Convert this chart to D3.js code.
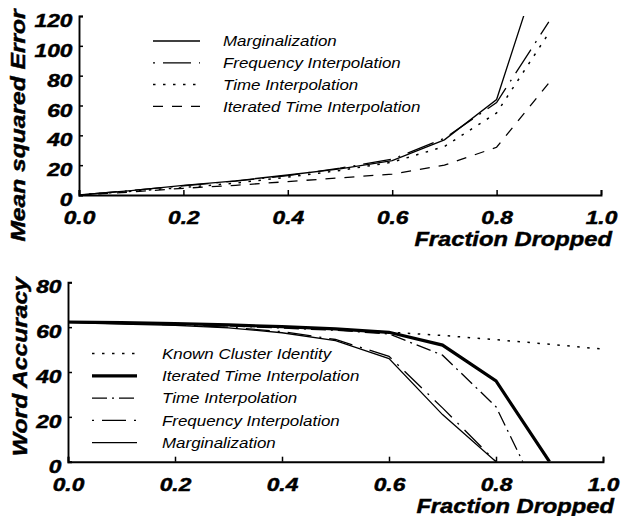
<!DOCTYPE html>
<html><head><meta charset="utf-8">
<script src="https://cdn.jsdelivr.net/npm/d3@7"></script>
<style>
body{margin:0;background:#fff}
svg text{font-family:"Liberation Sans",Arial,Helvetica,sans-serif;fill:#000}
</style></head><body>
<svg id="c" width="622" height="516"></svg>
<script>
// ---------- DATA ----------
const xTicks = [0, 0.2, 0.4, 0.6, 0.8, 1.0];
const xTickLabels = ["0.0", "0.2", "0.4", "0.6", "0.8", "1.0"];

// Top panel: Mean squared Error vs fraction dropped
const mseYTicks = [0, 20, 40, 60, 80, 100, 120];
const mseFractions = [0, 0.1, 0.2, 0.3, 0.4, 0.5, 0.6, 0.7, 0.8, 0.9];
const mseMarginalization = [0, 3, 6.5, 9.5, 13.4, 17.5, 23, 37, 64, 172];
const mseFrequency       = [0, 3, 6.2, 9.3, 13, 18, 24, 38, 62, 116];
const mseTime            = [0, 2.5, 5, 8, 12, 16.5, 22, 32.5, 55, 108.5];
const mseIterated        = [0, 2, 4.5, 6.5, 9, 11.5, 14, 20, 32, 75];

// Bottom panel: Word Accuracy vs fraction dropped
const accYTicks = [0, 20, 40, 60, 80];
const accKnownX = [0, 0.1, 0.2, 0.3, 0.4, 0.5, 0.6, 0.7, 0.8, 0.9, 1.0];
const accKnown  = [62.2, 62, 61.6, 61.1, 60.3, 59.3, 57.8, 56.3, 54.4, 52.4, 50.2];
const accIteratedX = [0, 0.1, 0.2, 0.3, 0.4, 0.5, 0.6, 0.7, 0.8, 0.9];
const accIterated  = [62.3, 62, 61.6, 61, 60.2, 59.2, 57.7, 52, 36, 0];
const accTimeX = [0, 0.1, 0.2, 0.3, 0.4, 0.5, 0.6, 0.7, 0.8, 0.85];
const accTime  = [62.2, 61.8, 61.3, 60.6, 59.6, 58.6, 57, 47.5, 24.5, 0];
const accFreqX = [0, 0.1, 0.2, 0.3, 0.4, 0.5, 0.6, 0.7, 0.8];
const accFrequency = [62.2, 61.7, 61, 60, 58, 54.5, 47, 24, 0];
const accMargX = [0, 0.1, 0.2, 0.3, 0.4, 0.5, 0.6, 0.7, 0.8];
const accMarginalization = [62, 61.4, 60.8, 59.7, 57.5, 54, 46, 21, 0];

// ---------- STYLES ----------
const S = {
  solid:   {dash: null, w: 1.3},
  freq:    {dash: "2,8,28,8", w: 1.3},
  dotted:  {dash: "2.5,7.5", w: 1.5},
  dashed:  {dash: "10,9", w: 1.3},
  thick:   {dash: null, w: 3.2},
  timeB:   {dash: "15,5,2,5", w: 1.3},
  freqB:   {dash: "2,8,24,8", w: 1.3}
};

const svg = d3.select("#c");

function boldText(sel, size) {
  sel.attr("font-size", size).attr("font-weight", "bold").attr("font-style", "italic")
    .attr("fill", "#000").attr("stroke", "#000").attr("stroke-width", 0.45)
    .attr("font-family", '"Liberation Sans",Arial,sans-serif');
}

function panel(o) {
  const x = d3.scaleLinear().domain([0, 1]).range(o.xr);
  const y = d3.scaleLinear().domain(o.yd).range(o.yr);
  const g = svg.append("g");
  const clipId = "clip" + o.id;
  svg.append("clipPath").attr("id", clipId).append("rect")
    .attr("x", o.xr[0]).attr("y", o.yr[1])
    .attr("width", o.xr[1] - o.xr[0]).attr("height", o.yr[0] - o.yr[1]);

  // series
  const lines = g.append("g").attr("clip-path", `url(#${clipId})`);
  o.series.forEach(s => {
    const pts = s.xs.map((d, i) => [d, s.ys[i]]);
    lines.append("path")
      .attr("d", d3.line().x(d => x(d[0])).y(d => y(d[1]))(pts))
      .attr("fill", "none").attr("stroke", "#000")
      .attr("stroke-width", s.style.w)
      .attr("stroke-dasharray", s.style.dash)
      .attr("stroke-linejoin", "miter");
  });

  // axes
  const tickSX = 1.3;
  const ax = g.append("g").attr("transform", `translate(0,${y(0)})`)
    .call(d3.axisBottom(x).tickValues(xTicks)
      .tickFormat((d, i) => xTickLabels[i]).tickSizeInner(-5).tickSizeOuter(-5));
  const ay = g.append("g").attr("transform", `translate(${x(0)},0)`)
    .call(d3.axisLeft(y).tickValues(o.yTicks).tickFormat(d3.format("d"))
      .tickSizeInner(-4).tickSizeOuter(-4));
  [ax, ay].forEach(a => {
    a.select(".domain").attr("stroke", "#000").attr("stroke-width", 1.9);
    a.selectAll(".tick line").attr("stroke", "#000").attr("stroke-width", 1.5);
    boldText(a.selectAll("text"), 17.5);
  });
  ax.selectAll("text").attr("y", 29.5).attr("dy", 0)
    .attr("transform", `scale(${tickSX},1)`);
  ay.selectAll("text").attr("x", -6.5 / tickSX).attr("y", 10.5).attr("dy", 0)
    .attr("transform", `scale(${tickSX},1)`);

  // axis titles
  const xt = g.append("g").attr("transform", `translate(${o.xTitle[0]},${o.xTitle[1]})`);
  boldText(xt.append("text").attr("text-anchor", "end")
    .attr("transform", "scale(1.13,1)").text("Fraction Dropped"), 21);
  const yt = g.append("g").attr("transform", `translate(${o.yTitle[0]},${o.yTitle[1]}) rotate(-90)`);
  boldText(yt.append("text").attr("text-anchor", "middle")
    .attr("transform", "scale(1.2,1)").text(o.yLabel), 20.5);

  // legend
  const lg = g.append("g");
  o.series.forEach((s, i) => {
    const ly = o.leg.y0 + i * o.leg.dy;
    lg.append("line").attr("x1", o.leg.x1).attr("x2", o.leg.x2)
      .attr("y1", ly).attr("y2", ly).attr("stroke", "#000")
      .attr("stroke-width", s.style.w).attr("stroke-dasharray", s.style.dash);
    lg.append("g").attr("transform", `translate(${o.leg.tx},${ly + 5.3})`)
      .append("text").attr("font-size", 14).attr("font-style", "italic")
      .attr("transform", "scale(1.21,1)").text(s.name);
  });
}

panel({
  id: "top", xr: [79, 601], yd: [0, 120], yr: [195, 16], yTicks: mseYTicks,
  yLabel: "Mean squared Error", xTitle: [612, 245.5], yTitle: [24.5, 125.5],
  leg: {x1: 153, x2: 200, tx: 223, y0: 41, dy: 21.8},
  series: [
    {name: "Marginalization", xs: mseFractions, ys: mseMarginalization, style: S.solid},
    {name: "Frequency Interpolation", xs: mseFractions, ys: mseFrequency, style: S.freq},
    {name: "Time Interpolation", xs: mseFractions, ys: mseTime, style: S.dotted},
    {name: "Iterated Time Interpolation", xs: mseFractions, ys: mseIterated, style: S.dashed}
  ]
});

panel({
  id: "bot", xr: [68, 603], yd: [0, 80], yr: [461.7, 282.3], yTicks: accYTicks,
  yLabel: "Word Accuracy", xTitle: [614, 512.5], yTitle: [26.5, 366.7],
  leg: {x1: 92, x2: 137, tx: 162, y0: 353.5, dy: 22.3},
  series: [
    {name: "Known Cluster Identity", xs: accKnownX, ys: accKnown, style: S.dotted},
    {name: "Iterated Time Interpolation", xs: accIteratedX, ys: accIterated, style: S.thick},
    {name: "Time Interpolation", xs: accTimeX, ys: accTime, style: S.timeB},
    {name: "Frequency Interpolation", xs: accFreqX, ys: accFrequency, style: S.freqB},
    {name: "Marginalization", xs: accMargX, ys: accMarginalization, style: S.solid}
  ]
});
</script>
</body></html>
